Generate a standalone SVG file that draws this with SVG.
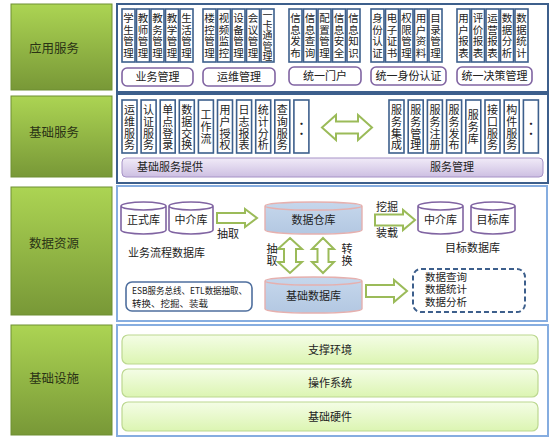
<svg xmlns="http://www.w3.org/2000/svg" width="555" height="441" viewBox="0 0 555 441">
<defs>
<linearGradient id="gGreen" x1="0" y1="0" x2="0" y2="1"><stop offset="0" stop-color="#acd453"/><stop offset="1" stop-color="#789837"/></linearGradient>
<linearGradient id="gPurple" x1="0" y1="0" x2="0" y2="1"><stop offset="0" stop-color="#f1ebf8"/><stop offset="1" stop-color="#cdbfe2"/></linearGradient>
<linearGradient id="gLime" x1="0" y1="0" x2="0" y2="1"><stop offset="0" stop-color="#f4fde6"/><stop offset="1" stop-color="#dcf5b2"/></linearGradient>
<linearGradient id="gCyl" x1="0" y1="0" x2="0" y2="1"><stop offset="0" stop-color="#c6d7ec"/><stop offset="1" stop-color="#b3c8e2"/></linearGradient>
</defs>
<style>
text{font-family:"Noto Sans CJK SC","Noto Sans",sans-serif;fill:#222}
.layer{fill:url(#gGreen);stroke:#6f8f33;stroke-width:1}
.layerT{font-size:12.5px;text-anchor:middle;fill:#2a3315}
.panelD{fill:#fff;stroke:#3d5f8c;stroke-width:2}
.panelL{fill:#fff;stroke:#86ade0;stroke-width:2}
.sb{fill:#fff;stroke:#3d5f8c;stroke-width:1.6}
.vt{font-size:10.5px;text-anchor:middle;writing-mode:vertical-rl;text-orientation:upright;letter-spacing:1px}
.vt5{font-size:10px;text-anchor:middle;writing-mode:vertical-rl;text-orientation:upright;letter-spacing:0.3px}
.vt2{font-size:11px;text-anchor:middle;writing-mode:vertical-rl;text-orientation:upright;letter-spacing:0.7px}
.vd{font-size:11px;text-anchor:middle;writing-mode:vertical-rl;text-orientation:upright;letter-spacing:-1px}
.vl{font-size:11px;text-anchor:middle;writing-mode:vertical-rl;text-orientation:upright;letter-spacing:1px}
.lab{fill:#fff;stroke:#8064a2;stroke-width:1.6}
.labT{font-size:11px;text-anchor:middle}
.bar{fill:url(#gPurple);stroke:#a692c6;stroke-width:1}
.inf{fill:url(#gLime);stroke:#bcd890;stroke-width:1.2}
.t11{font-size:11px}
.t105{font-size:10.5px}
.t10{font-size:9.5px}
.mid{text-anchor:middle}
.arr{fill:#fff;stroke:#9bbb59;stroke-width:2;stroke-linejoin:miter}
.cylP{fill:#fff;stroke:#8064a2;stroke-width:1.6}
.cylB{fill:url(#gCyl);stroke:#e6b0ae;stroke-width:1.4}
</style>

<!-- Layer labels -->
<g id="layer-app"><rect class="layer" x="11" y="4" width="101" height="86"/><text class="layerT" x="54" y="52.5">应用服务</text></g>
<g id="layer-basic"><rect class="layer" x="11" y="96" width="101" height="81"/><text class="layerT" x="54" y="136.5">基础服务</text></g>
<g id="layer-data"><rect class="layer" x="11" y="187" width="101" height="128"/><text class="layerT" x="54" y="247.5">数据资源</text></g>
<g id="layer-infra"><rect class="layer" x="11" y="325" width="101" height="110"/><text class="layerT" x="54" y="382.5">基础设施</text></g>

<!-- Panels -->
<g id="panel-app"><rect class="panelD" x="117" y="4" width="431" height="88"/></g>
<g id="panel-basic"><rect class="panelD" x="117" y="94" width="431" height="89"/></g>
<g id="panel-data"><rect class="panelL" x="117" y="186" width="430" height="135"/></g>
<g id="panel-infra"><rect class="panelL" x="117" y="325" width="431" height="111"/></g>

<!-- Application services: small boxes -->
<g id="app-boxes">
<rect class="sb" x="122" y="9" width="13" height="53"/><text class="vt" x="128.5" y="36">学生管理</text>
<rect class="sb" x="136.5" y="9" width="13" height="53"/><text class="vt" x="143" y="36">教师管理</text>
<rect class="sb" x="151" y="9" width="13" height="53"/><text class="vt" x="157.5" y="36">教务管理</text>
<rect class="sb" x="165.5" y="9" width="13" height="53"/><text class="vt" x="172" y="36">教学管理</text>
<rect class="sb" x="180" y="9" width="13" height="53"/><text class="vt" x="186.5" y="36">生活管理</text>

<rect class="sb" x="203" y="9" width="13" height="53"/><text class="vt" x="209.5" y="36">楼控管理</text>
<rect class="sb" x="217.5" y="9" width="13" height="53"/><text class="vt" x="224" y="36">视频监控</text>
<rect class="sb" x="232" y="9" width="13" height="53"/><text class="vt" x="238.5" y="36">设备管理</text>
<rect class="sb" x="246.5" y="9" width="13" height="53"/><text class="vt" x="253" y="36">会议管理</text>
<rect class="sb" x="261" y="9" width="13" height="53"/><text class="vt5" x="267.5" y="35.7">一卡通管理</text>

<rect class="sb" x="289" y="9" width="13" height="53"/><text class="vt" x="295.5" y="36">信息发布</text>
<rect class="sb" x="303.5" y="9" width="13" height="53"/><text class="vt" x="310" y="36">信息查询</text>
<rect class="sb" x="318" y="9" width="13" height="53"/><text class="vt" x="324.5" y="36">配置管理</text>
<rect class="sb" x="332.5" y="9" width="13" height="53"/><text class="vt" x="339" y="36">信息安全</text>
<rect class="sb" x="347" y="9" width="13" height="53"/><text class="vt" x="353.5" y="36">信息知识</text>

<rect class="sb" x="371" y="9" width="13" height="53"/><text class="vt" x="377.5" y="36">身份认证</text>
<rect class="sb" x="385.5" y="9" width="13" height="53"/><text class="vt" x="392" y="36">电子证书</text>
<rect class="sb" x="400" y="9" width="13" height="53"/><text class="vt" x="406.5" y="36">权限管理</text>
<rect class="sb" x="414.5" y="9" width="13" height="53"/><text class="vt" x="421" y="36">用户资料</text>
<rect class="sb" x="429" y="9" width="13" height="53"/><text class="vt" x="435.5" y="36">目录管理</text>

<rect class="sb" x="457" y="9" width="13" height="53"/><text class="vt" x="463.5" y="36">用户报表</text>
<rect class="sb" x="471.5" y="9" width="13" height="53"/><text class="vt" x="478" y="36">评价报表</text>
<rect class="sb" x="486" y="9" width="13" height="53"/><text class="vt" x="492.5" y="36">运营报表</text>
<rect class="sb" x="500.5" y="9" width="13" height="53"/><text class="vt" x="507" y="36">数据分析</text>
<rect class="sb" x="515" y="9" width="13" height="53"/><text class="vt" x="521.5" y="36">数据统计</text>
</g>

<g id="app-labels">
<rect class="lab" x="122" y="68" width="71" height="18" rx="5"/><text class="labT" x="157.5" y="81">业务管理</text>
<rect class="lab" x="203" y="68" width="72" height="18" rx="5"/><text class="labT" x="239" y="81">运维管理</text>
<rect class="lab" x="289" y="67" width="72" height="18" rx="5"/><text class="labT" x="325" y="80">统一门户</text>
<rect class="lab" x="371" y="67" width="75" height="18" rx="5"/><text class="labT" x="408.5" y="80">统一身份认证</text>
<rect class="lab" x="457" y="67" width="75" height="18" rx="5"/><text class="labT" x="494.5" y="80">统一决策管理</text>
</g>

<!-- Basic services -->
<g id="basic-boxes">
<rect class="sb" x="122" y="100" width="15" height="53"/><text class="vt2" x="129.5" y="128">运维服务</text>
<rect class="sb" x="141.1" y="100" width="15" height="53"/><text class="vt2" x="148.6" y="128">认证服务</text>
<rect class="sb" x="160.2" y="100" width="15" height="53"/><text class="vt2" x="167.7" y="128">单点登录</text>
<rect class="sb" x="179.3" y="100" width="15" height="53"/><text class="vt2" x="186.8" y="128">数据交换</text>
<rect class="sb" x="198.4" y="100" width="15" height="53"/><text class="vt2" x="205.9" y="127">工作流</text>
<rect class="sb" x="217.5" y="100" width="15" height="53"/><text class="vt2" x="225" y="128">用户授权</text>
<rect class="sb" x="236.6" y="100" width="15" height="53"/><text class="vt2" x="244.1" y="128">日志报表</text>
<rect class="sb" x="255.7" y="100" width="15" height="53"/><text class="vt2" x="263.2" y="128">统计分析</text>
<rect class="sb" x="274.8" y="100" width="15" height="53"/><text class="vt2" x="282.3" y="128">查询服务</text>
<rect class="sb" x="293.9" y="100" width="15" height="53"/><text class="vd" x="301.4" y="128">··</text>

<rect class="sb" x="389" y="100" width="15" height="53"/><text class="vt2" x="396.5" y="128">服务集成</text>
<rect class="sb" x="408.2" y="100" width="15" height="53"/><text class="vt2" x="415.7" y="128">服务管理</text>
<rect class="sb" x="427.4" y="100" width="15" height="53"/><text class="vt2" x="434.9" y="128">服务注册</text>
<rect class="sb" x="446.6" y="100" width="15" height="53"/><text class="vt2" x="454.1" y="128">服务发布</text>
<rect class="sb" x="465.8" y="100" width="15" height="53"/><text class="vt2" x="473.3" y="127">服务库</text>
<rect class="sb" x="485" y="100" width="15" height="53"/><text class="vt2" x="492.5" y="128">接口服务</text>
<rect class="sb" x="504.2" y="100" width="15" height="53"/><text class="vt2" x="511.7" y="128">构件服务</text>
<rect class="sb" x="523.4" y="100" width="15" height="53"/><text class="vd" x="530.9" y="128">··</text>
</g>

<g id="basic-bar">
<rect class="bar" x="122" y="158" width="421" height="19" rx="4"/>
<text class="t11" x="137" y="171">基础服务提供</text>
<text class="t11 mid" x="452" y="171">服务管理</text>
</g>

<!-- Data resources -->
<g id="db-zhengshi"><path class="cylP" d="M121,206 V230 A22.5,4 0 0 0 166,230 V206 A22.5,4 0 0 0 121,206 A22.5,4 0 0 0 166,206"/><text class="t11 mid" x="143.5" y="224">正式库</text></g>
<g id="db-zhongjie1"><path class="cylP" d="M169,206 V230 A22,4 0 0 0 213,230 V206 A22,4 0 0 0 169,206 A22,4 0 0 0 213,206"/><text class="t11 mid" x="191" y="224">中介库</text></g>
<text class="t11" x="128" y="257">业务流程数据库</text>

<g id="db-warehouse"><path class="cylB" d="M265,206 V230 A48.5,4 0 0 0 362,230 V206 A48.5,4 0 0 0 265,206 A48.5,4 0 0 0 362,206"/><text class="t11 mid" x="313.5" y="224">数据仓库</text></g>
<g id="db-basic"><path class="cylB" d="M265,281 V309 A48.5,4 0 0 0 362,309 V281 A48.5,4 0 0 0 265,281 A48.5,4 0 0 0 362,281"/><text class="t11 mid" x="313.5" y="300">基础数据库</text></g>

<g id="db-zhongjie2"><path class="cylP" d="M418,206 V230 A22.5,4 0 0 0 463,230 V206 A22.5,4 0 0 0 418,206 A22.5,4 0 0 0 463,206"/><text class="t11 mid" x="440.5" y="224">中介库</text></g>
<g id="db-mubiao"><path class="cylP" d="M471,206 V230 A22,4 0 0 0 515,230 V206 A22,4 0 0 0 471,206 A22,4 0 0 0 515,206"/><text class="t11 mid" x="493" y="224">目标库</text></g>
<text class="t11" x="445" y="252">目标数据库</text>

<g id="esb"><rect x="126" y="282" width="126" height="29" rx="6" fill="#fff" stroke="#4f6f9e" stroke-width="1.6"/>
<text class="t10" x="132" y="293.5" textLength="115" lengthAdjust="spacingAndGlyphs">ESB服务总线、ETL数据抽取、</text>
<text class="t10" x="132" y="306.5">转换、挖掘、装载</text></g>

<g id="analysis"><rect x="413" y="269" width="112" height="43" rx="8" fill="#fff" stroke="#3d5f8c" stroke-width="2" stroke-dasharray="5 3"/>
<text class="t105" x="425" y="280.5">数据查询</text>
<text class="t105" x="425" y="293">数据统计</text>
<text class="t105" x="425" y="305.5">数据分析</text></g>

<!-- Infrastructure -->
<g id="infra-1"><rect class="inf" x="122" y="335" width="416" height="29" rx="6"/><text class="t11 mid" x="330" y="353.5">支撑环境</text></g>
<g id="infra-2"><rect class="inf" x="122" y="369" width="416" height="28" rx="6"/><text class="t11 mid" x="330" y="387">操作系统</text></g>
<g id="infra-3"><rect class="inf" x="122" y="402" width="416" height="29" rx="6"/><text class="t11 mid" x="330" y="420.5">基础硬件</text></g>

<!-- Connectors -->
<g id="connectors">
<path class="arr" d="M322,127.5 L336,115 L336,121.5 L358,121.5 L358,115 L372,127.5 L358,140 L358,133.5 L336,133.5 L336,140 Z"/>
<path class="arr" d="M217,213 L245,213 L245,209 L257,218 L245,227 L245,223 L217,223 Z"/>
<path class="arr" d="M375,214.5 L403,214.5 L403,210 L415,220 L403,230 L403,225.5 L375,225.5 Z"/>
<path class="arr" d="M366,285 L394,285 L394,280 L407,291 L394,302 L394,297 L366,297 Z"/>
<path class="arr" d="M290,238 L302,249 L296,249 L296,262 L302,262 L290,273 L278,262 L284,262 L284,249 L278,249 Z"/>
<path class="arr" d="M323,238 L334,249 L328.5,249 L328.5,262 L334,262 L323,273 L312,262 L317.5,262 L317.5,249 L312,249 Z"/>
<text class="t11 mid" x="228" y="238">抽取</text>
<text class="t11 mid" x="387" y="211">挖掘</text>
<text class="t11 mid" x="387" y="237">装载</text>
<text class="vl" x="272" y="255">抽取</text>
<text class="vl" x="347" y="255">转换</text>
</g>
</svg>
